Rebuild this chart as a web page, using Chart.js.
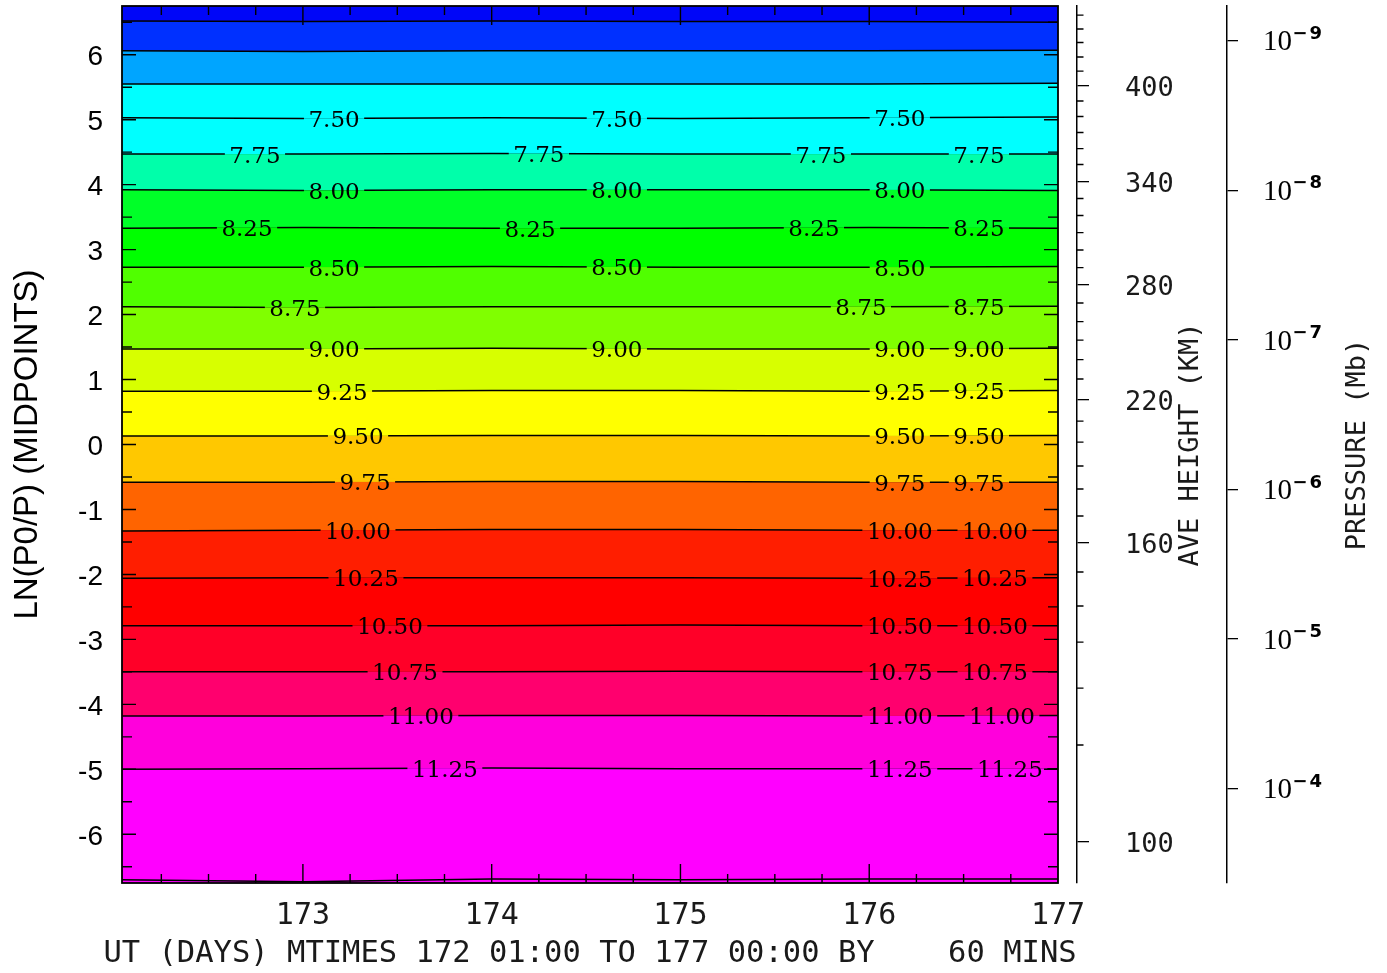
<!DOCTYPE html>
<html lang="en">
<head>
<meta charset="UTF-8">
<title>LN(P0/P) contours</title>
<script src="https://cdn.jsdelivr.net/npm/chart.js"></script>
<style>
    html, body { margin: 0; padding: 0; background: #fff; }
    .chart-container { position: relative; width: 1387px; height: 973px; }
</style>
</head>
<body>
<div class="chart-container"><canvas id="contourChart"></canvas></div>
<script>
const days = [172.0417, 173, 174, 175, 176, 177];

// contour levels and their LN(P0/P) position at each day above
const levels = [6.75, 7.00, 7.25, 7.50, 7.75, 8.00, 8.25, 8.50, 8.75, 9.00,
                9.25, 9.50, 9.75, 10.00, 10.25, 10.50, 10.75, 11.00, 11.25, 11.50];
const contourLn = [
    [6.52, 6.51, 6.52, 6.51, 6.51, 6.50],
    [6.06, 6.05, 6.06, 6.06, 6.06, 6.07],
    [5.55, 5.55, 5.55, 5.55, 5.55, 5.56],
    [5.03, 5.02, 5.03, 5.02, 5.03, 5.04],
    [4.47, 4.47, 4.48, 4.47, 4.47, 4.47],
    [3.92, 3.91, 3.92, 3.92, 3.92, 3.91],
    [3.33, 3.34, 3.33, 3.33, 3.34, 3.33],
    [2.73, 2.73, 2.74, 2.73, 2.73, 2.74],
    [2.12, 2.11, 2.12, 2.12, 2.12, 2.13],
    [1.47, 1.47, 1.48, 1.47, 1.47, 1.48],
    [0.82, 0.82, 0.83, 0.83, 0.82, 0.83],
    [0.13, 0.13, 0.14, 0.14, 0.13, 0.14],
    [-0.58, -0.58, -0.57, -0.57, -0.58, -0.58],
    [-1.33, -1.32, -1.31, -1.31, -1.32, -1.32],
    [-2.06, -2.05, -2.05, -2.05, -2.06, -2.05],
    [-2.79, -2.79, -2.79, -2.78, -2.79, -2.79],
    [-3.50, -3.50, -3.50, -3.49, -3.50, -3.50],
    [-4.18, -4.18, -4.17, -4.17, -4.18, -4.17],
    [-5.00, -4.99, -4.98, -4.99, -4.99, -4.99],
    [-6.70, -6.73, -6.69, -6.70, -6.69, -6.69]
];

// fill colour of each band, top band first (one more than levels)
const bandColors = [
    '#0006f8', '#0030ff', '#00a5ff', '#00ffff', '#00ffff', '#00ffaa',
    '#00ff28', '#00ff00', '#50ff00', '#80ff00', '#d7ff00', '#ffff00',
    '#ffc800', '#ff6400', '#ff1e00', '#ff0000', '#ff0028', '#ff006e',
    '#ff00dc', '#ff00ff', '#ff00ff'
];

// where the contour labels sit (UT days), per level
const labelDays = [
    [], [], [],
    [173.165, 174.663, 176.162],
    [172.746, 174.250, 175.744, 176.581],
    [173.165, 174.663, 176.162],
    [172.704, 174.203, 175.707, 176.581],
    [173.165, 174.663, 176.162],
    [172.958, 175.956, 176.581],
    [173.165, 174.663, 176.162, 176.581],
    [173.207, 176.162, 176.581],
    [173.292, 176.162, 176.581],
    [173.329, 176.162, 176.581],
    [173.292, 176.162, 176.666],
    [173.334, 176.162, 176.666],
    [173.461, 176.162, 176.666],
    [173.541, 176.162, 176.666],
    [173.625, 176.162, 176.703],
    [173.752, 176.162, 176.745],
    []
];

const dayTicks = [173, 174, 175, 176, 177];
const lnTicks = [-6, -5, -4, -3, -2, -1, 0, 1, 2, 3, 4, 5, 6];
const xTitle = 'UT (DAYS) MTIMES 172 01:00 TO 177 00:00 BY    60 MINS';

// average height axis (km) and the LN(P0/P) it lines up with
const heightKm = [100, 160, 220, 280, 340, 400];
const heightLn = [-6.119, -1.517, 0.692, 2.455, 4.045, 5.518];
const minorHeightLn = [-4.626, -3.749, -3.041, -2.486, -1.963, -1.101, -0.685, -0.331,
    0.038, 0.361, 1.008, 1.308, 1.608, 1.893, 2.178, 2.724, 2.994, 3.263, 3.525, 3.787,
    4.310, 4.556, 4.803, 5.049, 5.288, 5.749, 5.965, 6.188, 6.396, 6.611];

// pressure axis: decades in mb, P0 = 5e-7 mb
const pressureExp = [-9, -8, -7, -6, -5, -4];
const P0 = 5e-7;

const MONO = '"DejaVu Sans Mono", monospace';
const SERIF10 = '29px "Liberation Serif", "DejaVu Serif", serif';

function lineValueAt(i, d) {
    const row = contourLn[i];
    for (let j = 0; j < days.length - 1; j++) {
        if (d >= days[j] && d <= days[j + 1]) {
            const t = (d - days[j]) / (days[j + 1] - days[j]);
            return row[j] + t * (row[j + 1] - row[j]);
        }
    }
    return row[row.length - 1];
}

const datasets = levels.map((lev, i) => ({
    label: lev.toFixed(2),
    data: days.map((d, j) => ({ x: d, y: contourLn[i][j] })),
    borderColor: '#000',
    borderWidth: 1.5,
    pointRadius: 0,
    tension: 0,
    fill: i === 0 ? 'end' : '-1',
    backgroundColor: bandColors[i]
}));
datasets.push({
    label: 'below',
    data: days.map((d, j) => ({ x: d, y: contourLn[levels.length - 1][j] })),
    borderColor: 'rgba(0,0,0,0)',
    borderWidth: 0,
    pointRadius: 0,
    fill: 'start',
    backgroundColor: bandColors[levels.length]
});

function noPad(s) {
    s.paddingTop = 0; s.paddingBottom = 0; s.paddingLeft = 0; s.paddingRight = 0;
}

const decorations = {
    id: 'decorations',
    afterDatasetsDraw(chart) {
        const ctx = chart.ctx;
        const x = chart.scales.x, y = chart.scales.y, yh = chart.scales.yh, yp = chart.scales.yp;
        const a = chart.chartArea;
        ctx.save();

        // contour labels: break the line and write the level
        ctx.font = '23px "DejaVu Serif", serif';
        ctx.textAlign = 'center';
        ctx.textBaseline = 'alphabetic';
        levels.forEach((lev, i) => {
            labelDays[i].forEach(d => {
                const px = x.getPixelForValue(d);
                const py = y.getPixelForValue(lineValueAt(i, d));
                const txt = lev.toFixed(2);
                const w = ctx.measureText(txt).width + 9;
                ctx.fillStyle = bandColors[i];
                ctx.fillRect(px - w / 2, py - 3, w, 3);
                ctx.fillStyle = bandColors[i + 1];
                ctx.fillRect(px - w / 2, py, w, 3);
                ctx.fillStyle = '#000';
                ctx.fillText(txt, px, py + 8.5);
            });
        });

        // frame with inward ticks
        ctx.strokeStyle = '#000';
        ctx.lineWidth = 1.4;
        ctx.beginPath();
        for (let d = 172.25; d < 177; d += 0.25) {
            const px = x.getPixelForValue(d);
            const len = Number.isInteger(d) ? 19 : 9;
            ctx.moveTo(px, a.top); ctx.lineTo(px, a.top + len);
            ctx.moveTo(px, a.bottom); ctx.lineTo(px, a.bottom - len);
        }
        for (let v = -6.5; v <= 6.5; v += 0.5) {
            const py = y.getPixelForValue(v);
            const len = Number.isInteger(v) ? 14 : 10;
            ctx.moveTo(a.left, py); ctx.lineTo(a.left + len, py);
            ctx.moveTo(a.right, py); ctx.lineTo(a.right - len, py);
        }
        ctx.stroke();
        ctx.lineWidth = 1.8;
        ctx.strokeRect(a.left, a.top, a.right - a.left, a.bottom - a.top);

        // minor ticks on the height axis (every 10 km)
        ctx.lineWidth = 1.3;
        ctx.beginPath();
        minorHeightLn.forEach(v => {
            const py = yh.getPixelForValue(v);
            ctx.moveTo(yh.left, py); ctx.lineTo(yh.left + 6.5, py);
        });
        ctx.stroke();

        // exponents of the pressure labels
        ctx.font = SERIF10;
        const tenW = ctx.measureText('10').width;
        ctx.font = 'bold 18px "DejaVu Sans", sans-serif';
        ctx.textAlign = 'left';
        ctx.textBaseline = 'alphabetic';
        ctx.fillStyle = '#000';
        pressureExp.forEach(e => {
            const py = yp.getPixelForValue(Math.log(P0 / Math.pow(10, e)));
            const sx = yp.left + 11 + 25 + tenW + 0.5;
            ctx.fillText('\u2212', sx, py - 2);
            ctx.fillText(String(-e), sx + 17, py - 2);
        });

        // x title, written in full width (no squeezing to the plot width)
        ctx.fillStyle = '#1a1a1a';
        ctx.font = '30.5px ' + MONO;
        ctx.textAlign = 'center';
        ctx.fillText(xTitle, (a.left + a.right) / 2, 962);

        // right-hand titles, read bottom to top
        ctx.font = '27px ' + MONO;
        ctx.textBaseline = 'middle';
        const midY = (a.top + a.bottom) / 2;
        [['AVE HEIGHT (KM)', yh.left + 114], ['PRESSURE (Mb)', yp.left + 131]].forEach(([t, tx]) => {
            ctx.save();
            ctx.translate(tx, midY);
            ctx.rotate(-Math.PI / 2);
            ctx.fillText(t, 0, 0);
            ctx.restore();
        });
        ctx.restore();
    }
};

const ctx = document.getElementById('contourChart').getContext('2d');
new Chart(ctx, {
    type: 'line',
    data: { datasets: datasets },
    options: {
        responsive: true,
        maintainAspectRatio: false,
        animation: false,
        layout: { padding: { top: 6, left: 0, right: 0, bottom: 0 } },
        plugins: {
            legend: { display: false },
            tooltip: { enabled: false },
            filler: { drawTime: 'beforeDatasetsDraw' }
        },
        scales: {
            x: {
                type: 'linear',
                position: 'bottom',
                min: 172 + 1 / 24,
                max: 177,
                afterBuildTicks: s => { s.ticks = dayTicks.map(v => ({ value: v })); },
                afterFit: s => { s.height = 90; noPad(s); },
                grid: { display: false, drawTicks: false },
                border: { display: false },
                ticks: {
                    autoSkip: false, maxRotation: 0, padding: 15,
                    color: '#1a1a1a', font: { family: MONO, size: 30 },
                    callback: v => String(v)
                },
                title: { display: false }
            },
            y: {
                type: 'linear',
                position: 'left',
                min: -6.75,
                max: 6.75,
                afterBuildTicks: s => { s.ticks = lnTicks.map(v => ({ value: v })); },
                afterFit: s => { s.width = 122; noPad(s); },
                grid: { display: false, drawTicks: false },
                border: { display: false },
                ticks: {
                    autoSkip: false, padding: 19, labelOffset: 3, color: '#000',
                    font: { family: '"Liberation Sans", Arial, sans-serif', size: 28 },
                    callback: v => String(v)
                },
                title: {
                    display: true,
                    text: 'LN(P0/P) (MIDPOINTS)',
                    color: '#000',
                    font: { family: '"Liberation Sans", Arial, sans-serif', size: 33, lineHeight: 1.2 },
                    padding: { top: 8, bottom: 0 }
                }
            },
            gap: {
                type: 'linear',
                position: 'right',
                weight: 0,
                min: -6.75,
                max: 6.75,
                afterFit: s => { s.width = 19; noPad(s); },
                grid: { display: false, drawTicks: false },
                border: { display: false },
                ticks: { display: false }
            },
            yh: {
                type: 'linear',
                position: 'right',
                weight: 1,
                min: -6.75,
                max: 6.75,
                afterBuildTicks: s => { s.ticks = heightLn.map(v => ({ value: v })); },
                afterFit: s => { s.width = 150; noPad(s); },
                grid: { display: true, drawOnChartArea: false, drawTicks: true, tickLength: 12, color: '#000', lineWidth: 1.3 },
                border: { display: true, color: '#000', width: 1.5 },
                ticks: {
                    autoSkip: false, padding: 36, labelOffset: 3, color: '#1a1a1a',
                    font: { family: MONO, size: 27 },
                    callback: (v, i) => String(heightKm[i])
                }
            },
            yp: {
                type: 'linear',
                position: 'right',
                weight: 2,
                min: -6.75,
                max: 6.75,
                afterBuildTicks: s => {
                    s.ticks = pressureExp.map(e => ({ value: Math.log(P0 / Math.pow(10, e)) }));
                },
                afterFit: s => { s.width = 160; noPad(s); },
                grid: { display: true, drawOnChartArea: false, drawTicks: true, tickLength: 11, color: '#000', lineWidth: 1.3 },
                border: { display: true, color: '#000', width: 1.5 },
                ticks: {
                    autoSkip: false, padding: 25, labelOffset: 2, color: '#000',
                    font: { family: '"Liberation Serif", "DejaVu Serif", serif', size: 29 },
                    callback: () => '10'
                }
            }
        }
    },
    plugins: [decorations]
});
</script>
</body>
</html>
